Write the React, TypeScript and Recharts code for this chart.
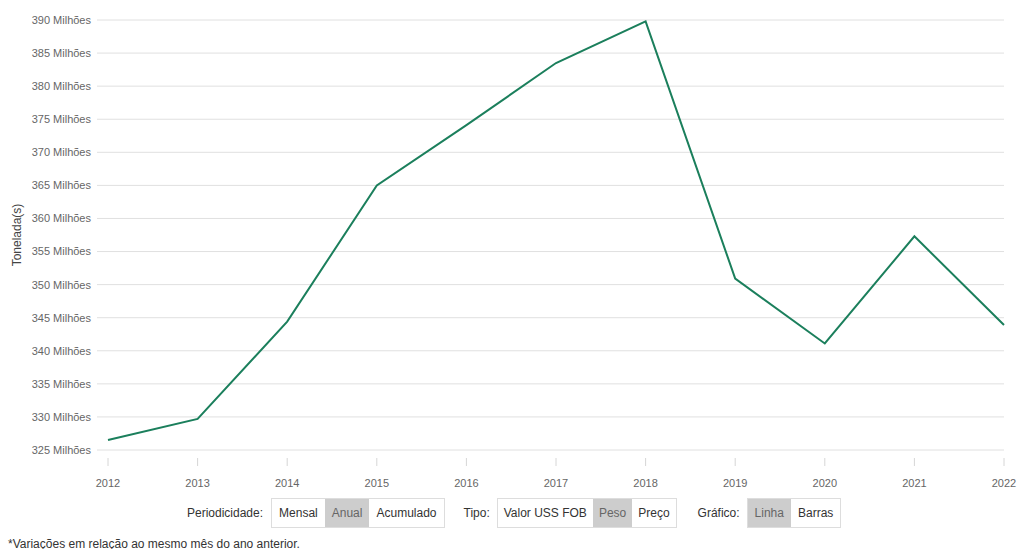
import { LineChart, Line, XAxis, YAxis, CartesianGrid } from 'recharts'

const years = ['2012', '2013', '2014', '2015', '2016', '2017', '2018', '2019', '2020', '2021', '2022']
const peso = [326.5, 329.7, 344.4, 365.0, 374.1, 383.5, 389.8, 350.9, 341.1, 357.3, 343.9]
const yTicks = [325, 330, 335, 340, 345, 350, 355, 360, 365, 370, 375, 380, 385, 390]

const chartData = years.map((ano, i) => ({ ano, peso: peso[i] }))

const font = '"Liberation Sans", Arial, sans-serif'

// tick with a small detached vertical mark above the year
const YearTick = ({ x, y, payload }: { x?: number; y?: number; payload?: { value: string } }) => {
  const yy = y ?? 0
  return (
    <g>
      <line x1={x} x2={x} y1={yy + 8} y2={yy + 16} stroke="#d6d6d6" strokeWidth={1} />
      <text x={x} y={yy + 37} textAnchor="middle" fontSize={11} fill="#666" fontFamily={font}>
        {payload?.value}
      </text>
    </g>
  )
}

const Group = ({ items, active, pad = 7 }: { items: string[]; active: number; pad?: number }) => (
  <div style={{ display: 'flex', border: '1px solid #ddd', height: 28 }}>
    {items.map((t, i) => (
      <div
        key={t}
        style={{
          padding: `0 ${pad}px`,
          lineHeight: '28px',
          background: i === active ? '#cdcdcd' : '#fff',
          color: i === active ? '#666' : '#333'
        }}
      >
        {t}
      </div>
    ))}
  </div>
)

export default function App() {
  return (
    <div style={{ position: 'absolute', left: 0, top: 0, width: 1017, height: 549, background: '#fff', fontFamily: font }}>
      <LineChart width={1017} height={495} data={chartData} margin={{ top: 20, right: 13, left: 0, bottom: 0 }}>
        <CartesianGrid vertical={false} stroke="#e0e0e0" />
        <XAxis
          dataKey="ano"
          axisLine={false}
          tickLine={false}
          tickSize={0}
          tickMargin={0}
          padding={{ left: 11, right: 0 }}
          tick={<YearTick />}
          interval={0}
          height={45}
        />
        <YAxis
          domain={[325, 390]}
          ticks={yTicks}
          width={97}
          axisLine={false}
          tickLine={false}
          tickSize={0}
          tickMargin={6}
          tickFormatter={(v: number) => `${v} Milhões`}
          tick={{ fontSize: 11, fill: '#666', fontFamily: font }}
          label={{
            content: () => (
              <text
                x={17}
                y={235}
                transform="rotate(-90 17 235)"
                textAnchor="middle"
                dominantBaseline="central"
                fontSize={12}
                fill="#444"
                fontFamily={font}
              >
                Tonelada(s)
              </text>
            )
          }}
        />
        <Line
          type="linear"
          dataKey="peso"
          stroke="#1b7f5c"
          strokeWidth={2}
          dot={false}
          activeDot={false}
          isAnimationActive={false}
        />
      </LineChart>

      <div
        style={{
          position: 'absolute',
          top: 498,
          left: 187,
          display: 'flex',
          alignItems: 'center',
          fontSize: 12,
          color: '#333'
        }}
      >
        <span style={{ marginRight: 8 }}>Periodicidade:</span>
        <Group items={['Mensal', 'Anual', 'Acumulado']} active={1} />
        <span style={{ marginLeft: 19, marginRight: 7 }}>Tipo:</span>
        <Group items={['Valor USS FOB', 'Peso', 'Preço']} active={1} pad={6} />
        <span style={{ marginLeft: 21, marginRight: 7 }}>Gráfico:</span>
        <Group items={['Linha', 'Barras']} active={0} />
      </div>

      <div style={{ position: 'absolute', top: 537, left: 8, fontSize: 12, color: '#333' }}>
        *Variações em relação ao mesmo mês do ano anterior.
      </div>
    </div>
  )
}
